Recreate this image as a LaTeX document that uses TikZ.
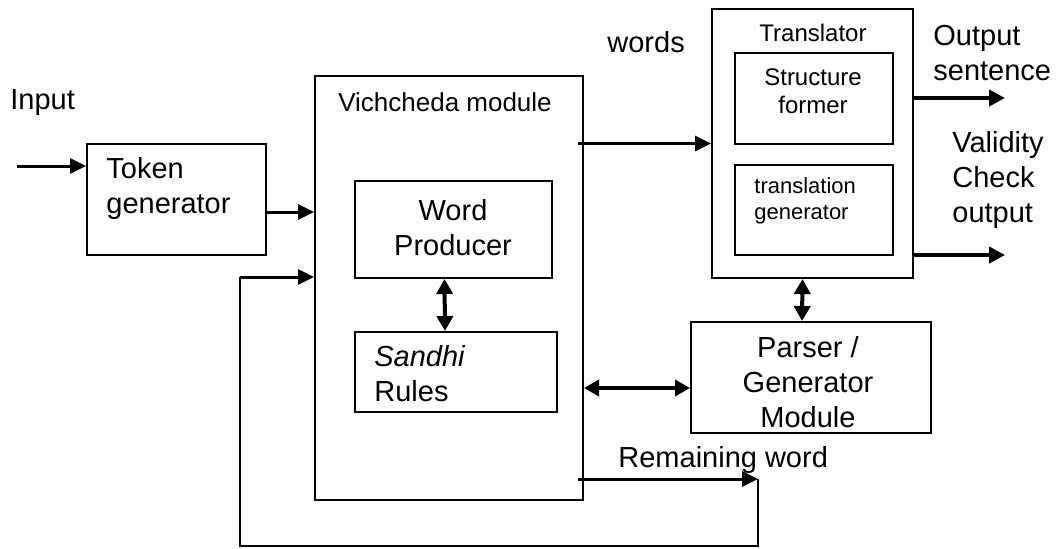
\documentclass[tikz,border=0pt]{standalone}
\usepackage{fontspec}
\setmainfont{Liberation Sans}
\usetikzlibrary{arrows.meta,fit}

\begin{document}
\begin{tikzpicture}[x=0.5pt, y=-0.5pt,
  box/.style={draw, line width=1pt, inner sep=0pt},
  lbl/.style={inner sep=0pt, align=left, font=\fontsize{14.5}{17.5}\selectfont},
  flow/.style={line width=1.5pt, -{Triangle[length=8pt,width=7.5pt]}},
  outflow/.style={line width=2.2pt, -{Triangle[length=8pt,width=8pt]}},
  both/.style={line width=2pt, {Triangle[length=7.5pt,width=8pt]}-{Triangle[length=7.5pt,width=8pt]}},
  feed/.style={line width=1pt}]
  \useasboundingbox (0,0) rectangle (1059,548);

  % boxes
  \node[box, fit={(87,144) (266,255)}] (tok) {};
  \node[box, fit={(315,76) (583,500)}] (vich) {};
  \node[box, fit={(355,181) (552,278)}] (word) {};
  \node[box, fit={(355,332) (557,412)}] (sandhi) {};
  \node[box, fit={(712,9) (913,278)}] (trans) {};
  \node[box, fit={(735,53) (893,144)}] (struct) {};
  \node[box, fit={(735,165) (893,255)}] (transgen) {};
  \node[box, fit={(691,322) (931,433)}] (parser) {};

  % texts
  \node[lbl, anchor=west] (inputlbl) at (10,103) {Input};
  \node[lbl, anchor=west] (toklbl) at (106,188) {Token\\generator};
  \node[lbl, font=\fontsize{13}{15}\selectfont] (vichlbl) at (445,102) {Vichcheda module};
  \node[lbl, align=center] (wordlbl) at (453,228) {Word\\Producer};
  \node[lbl, anchor=west] (sandhilbl) at (374,374) {\textit{Sandhi}\\Rules};
  \node[lbl, font=\fontsize{12}{14}\selectfont] (translbl) at (813,33) {Translator};
  \node[lbl, align=center, font=\fontsize{12}{14}\selectfont] (structlbl) at (813,91) {Structure\\former};
  \node[lbl, anchor=west, font=\fontsize{11}{13}\selectfont] (transgenlbl) at (754,201) {translation\\generator};
  \node[lbl, align=center] (parserlbl) at (808,382) {Parser /\\Generator\\Module};
  \node[lbl, anchor=west] (wordslbl) at (607,42) {words};
  \node[lbl, anchor=west] (outlbl) at (933,53) {Output\\sentence};
  \node[lbl, anchor=west] (validlbl) at (952,180) {Validity\\Check\\output};
  \node[lbl, anchor=west] (remlbl) at (618,460) {Remaining word};

  % free ends
  \coordinate (inputstart) at (17,166);
  \coordinate (outend) at (1005,98);
  \coordinate (validend) at (1005,255);
  \coordinate (remend) at (758,479);
  \coordinate (loopstart) at (240,277);

  % connectors
  \draw[flow] (inputstart) -- (tok.west |- inputstart);
  \draw[flow] (tok.east |- 0,212) -- (vich.west |- 0,212);
  \draw[flow] ([xshift=-3pt]vich.east |- trans.west) -- (trans.west);
  \draw[both] ([xshift=-4.5pt]word.south) -- ([xshift=-5.5pt]sandhi.north);
  \draw[both] (vich.east |- 0,388) -- (parser.west |- 0,388);
  \draw[both] ([xshift=-5pt]trans.south) -- ([xshift=-4.5pt]parser.north);
  \draw[outflow] (trans.east |- outend) -- (outend);
  \draw[outflow] (trans.east |- validend) -- (validend);
  \draw[flow] ([xshift=-3pt]vich.east |- remend) -- (remend);
  \draw[feed] (remend) -- (758,546) -| (loopstart);
  \draw[flow] (loopstart) -- (vich.west |- loopstart);
\end{tikzpicture}
\end{document}
